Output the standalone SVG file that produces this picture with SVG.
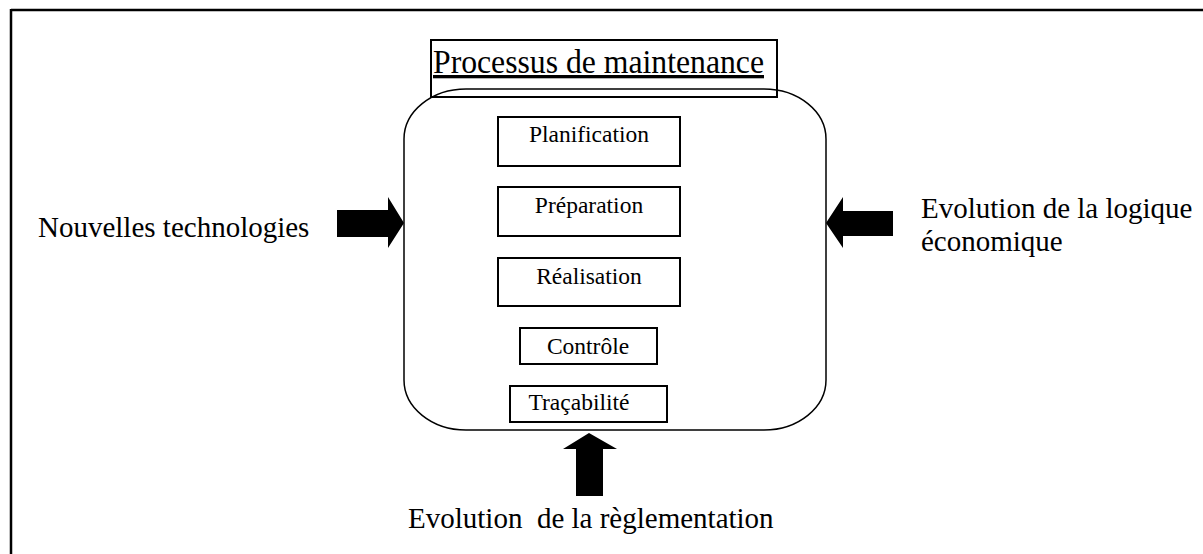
<svg xmlns="http://www.w3.org/2000/svg" width="1203" height="554" viewBox="0 0 1203 554">
<style>
text{font-family:"Liberation Serif","Times New Roman",serif;fill:#000}
.box{fill:#fff;stroke:#000;stroke-width:2}
.lbl{font-size:23.5px;text-anchor:middle}
.big{font-size:29px}
.arrow{fill:#000;stroke:none}
</style>
<rect width="1203" height="554" fill="#fff"/>
<g id="frame">
<line x1="11" y1="10" x2="1203" y2="10" stroke="#000" stroke-width="2.5"/>
<line x1="11" y1="9" x2="11" y2="554" stroke="#000" stroke-width="2.5"/>
</g>
<g id="process">
<rect x="404" y="89" width="422" height="341" rx="62" ry="50" fill="none" stroke="#000" stroke-width="1.5"/>
</g>
<g id="title">
<rect x="431" y="40" width="346" height="57" fill="none" stroke="#000" stroke-width="2"/>
<text x="433" y="73" font-size="33" text-decoration="underline" textLength="331" lengthAdjust="spacingAndGlyphs">Processus de maintenance</text>
</g>
<g id="planification">
<rect class="box" x="498" y="117" width="182" height="49"/>
<text class="lbl" x="589" y="142">Planification</text>
</g>
<g id="preparation">
<rect class="box" x="498" y="187" width="182" height="49"/>
<text class="lbl" x="589" y="213">Préparation</text>
</g>
<g id="realisation">
<rect class="box" x="498" y="258" width="182" height="48"/>
<text class="lbl" x="589" y="284">Réalisation</text>
</g>
<g id="controle">
<rect class="box" x="520" y="328" width="137" height="36"/>
<text class="lbl" x="588" y="354">Contrôle</text>
</g>
<g id="tracabilite">
<rect class="box" x="510" y="386" width="157" height="36"/>
<text class="lbl" x="579" y="410">Traçabilité</text>
</g>
<g id="connectors">
<polygon class="arrow" points="337,210 388,210 388,197 404,223 388,248 388,237 337,237"/>
<polygon class="arrow" points="893,211 843,211 843,197 826,223 843,248 843,236 893,236"/>
<polygon class="arrow" points="576,496 576,449 563,449 589,433 617,449 603,449 603,496"/>
</g>
<g id="nouvelles-technologies">
<text class="big" x="38" y="237">Nouvelles technologies</text>
</g>
<g id="evolution-logique">
<text class="big" x="921" y="218">Evolution de la logique</text>
<text class="big" x="921" y="251">économique</text>
</g>
<g id="evolution-reglementation">
<text class="big" x="408" y="528" xml:space="preserve" style="white-space:pre">Evolution  de la règlementation</text>
</g>
</svg>
